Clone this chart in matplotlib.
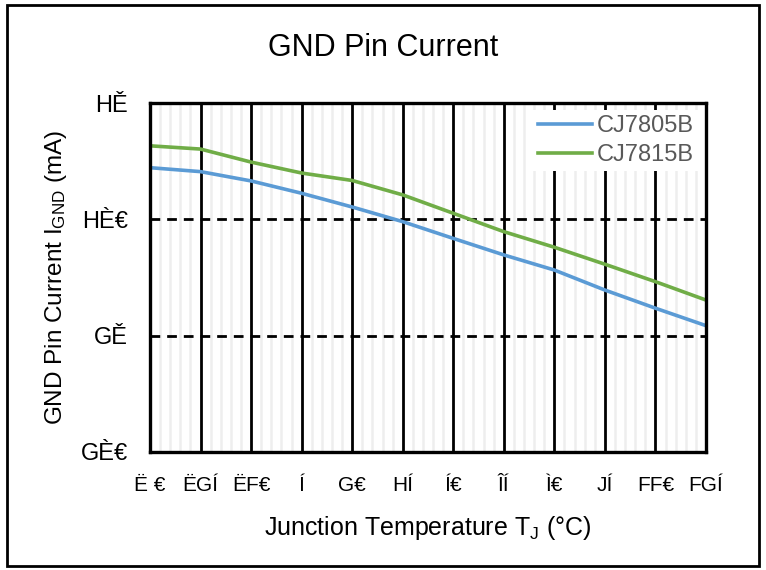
import matplotlib
matplotlib.use("Agg")
import matplotlib.pyplot as plt
from matplotlib.patches import Rectangle

plt.rcParams['font.family'] = ['Liberation Sans', 'DejaVu Sans']
plt.rcParams['mathtext.default'] = 'regular'

temps = [-40, -25, -10, 5, 20, 35, 50, 65, 80, 95, 110, 125]
cj7805b = [3.222, 3.205, 3.165, 3.112, 3.053, 2.990, 2.918, 2.847, 2.782, 2.696, 2.618, 2.543]
cj7815b = [3.316, 3.302, 3.246, 3.199, 3.167, 3.105, 3.026, 2.947, 2.880, 2.807, 2.732, 2.653]
x_tick_labels = ["Ë €", "ËGÍ", "ËF€", "Í", "G€", "HÍ", "Í€", "ÎÍ", "Ì€", "JÍ", "FF€", "FGÍ"]
y_ticks = [2.0, 2.5, 3.0, 3.5]
y_tick_labels = ["GÈ€", "GĚ", "HÈ€", "HĚ"]

W, H = 766, 570
fig = plt.figure(figsize=(W / 100, H / 100), dpi=100)
ax = fig.add_axes([150 / W, 1 - 452 / H, (706 - 150) / W, (452 - 103) / H])

ax.set_xlim(-40, 125)
ax.set_ylim(2.0, 3.5)

minor = [t for t in range(-40, 126, 3)]
ax.set_xticks(minor, minor=True)
ax.tick_params(axis='x', which='minor', length=0)
ax.grid(True, axis='x', which='minor', color='#eeeeee', lw=1.8, zorder=0)
ax.set_xticks(temps)
ax.set_xticklabels(x_tick_labels, fontsize=15)
ax.grid(True, axis='x', which='major', color='black', lw=2, zorder=1)
ax.set_yticks(y_ticks)
ax.set_yticklabels(y_tick_labels, fontsize=17)
ax.tick_params(axis='both', which='major', length=0)
ax.tick_params(axis='x', pad=17)
ax.tick_params(axis='y', pad=16)
for yv in y_ticks[1:3]:
    ax.axhline(yv, color='black', lw=2, ls=(0, (3.5, 2.5)), zorder=2)
for s in ax.spines.values():
    s.set_linewidth(2.4)
    s.set_color('black')
    s.set_zorder(4)

ax.plot(temps, cj7805b, color='#5B9BD5', lw=2.6, label='CJ7805B', zorder=3)
ax.plot(temps, cj7815b, color='#70AD47', lw=2.6, label='CJ7815B', zorder=3)

leg = ax.legend(loc='upper right', frameon=True, fontsize=17, handlelength=2.3,
                borderaxespad=0.3, handletextpad=0.2, labelspacing=0.32,
                facecolor='white', edgecolor='none', framealpha=1, fancybox=False,
                borderpad=0.2)
for t in leg.get_texts():
    t.set_color('#595959')

fig.text(383 / W, 1 - 48 / H, 'GND Pin Current', ha='center', va='center', fontsize=22)
ax.set_xlabel('Junction Temperature T$_J$ (°C)', fontsize=18, labelpad=14)
ax.set_ylabel('GND Pin Current I$_{GND}$ (mA)', fontsize=17.5, labelpad=8)

fig.patches.append(Rectangle((7 / W, 4 / H), (759 - 7) / W, (565 - 4) / H,
                             transform=fig.transFigure, fill=False, ec='black', lw=2))

fig.savefig('out.png', dpi=100)
